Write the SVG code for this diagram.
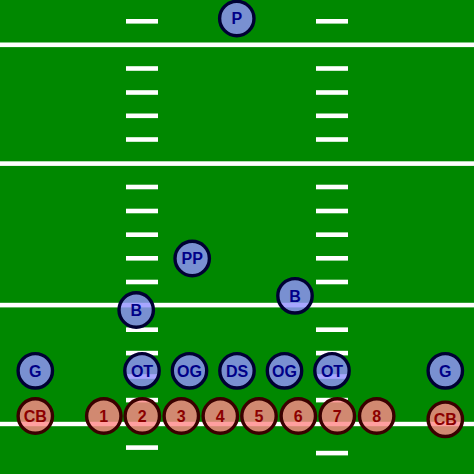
<svg xmlns="http://www.w3.org/2000/svg" width="474" height="474" viewBox="0 0 474 474">
<defs>
<style>
.field{fill:#008800}
.yl{fill:#ffffff}
.hm{fill:#ffffff}
.off circle{fill:#9492ff;fill-opacity:0.82;stroke:#000033;stroke-width:3.4}
.def circle{fill:#ff8a8a;fill-opacity:0.82;stroke:#3a0000;stroke-width:3.4}
text{font-family:"Liberation Sans",Arial,sans-serif;font-weight:bold;font-size:16px;text-anchor:middle}
.off text{fill:#000088}
.def text{fill:#8b0000}
</style>
</defs>
<rect class="field" x="0" y="0" width="474" height="474"/>
<g id="yardlines">
<rect class="yl" x="0" y="42.5" width="474" height="4.6"/>
<rect class="yl" x="0" y="161.3" width="474" height="4.6"/>
<rect class="yl" x="0" y="302.8" width="474" height="4.6"/>
<rect class="yl" x="0" y="421.8" width="474" height="4.4"/>
</g>
<g id="hashmarks">
<rect class="hm" x="126" y="19" width="32" height="4.6"/>
<rect class="hm" x="126" y="66.2" width="32" height="4.6"/>
<rect class="hm" x="126" y="90.2" width="32" height="4.6"/>
<rect class="hm" x="126" y="113.5" width="32" height="4.6"/>
<rect class="hm" x="126" y="137.2" width="32" height="4.6"/>
<rect class="hm" x="126" y="184.7" width="32" height="4.6"/>
<rect class="hm" x="126" y="208.7" width="32" height="4.6"/>
<rect class="hm" x="126" y="232.4" width="32" height="4.6"/>
<rect class="hm" x="126" y="256" width="32" height="4.6"/>
<rect class="hm" x="126" y="279.7" width="32" height="4.6"/>
<rect class="hm" x="126" y="327.4" width="32" height="4.6"/>
<rect class="hm" x="126" y="350.8" width="32" height="4.6"/>
<rect class="hm" x="126" y="374.2" width="32" height="4.6"/>
<rect class="hm" x="126" y="397.8" width="32" height="4.6"/>
<rect class="hm" x="126" y="445.3" width="32" height="4.6"/>
<rect class="hm" x="316" y="19" width="32" height="4.6"/>
<rect class="hm" x="316" y="66.2" width="32" height="4.6"/>
<rect class="hm" x="316" y="90.2" width="32" height="4.6"/>
<rect class="hm" x="316" y="113.5" width="32" height="4.6"/>
<rect class="hm" x="316" y="137.2" width="32" height="4.6"/>
<rect class="hm" x="316" y="184.7" width="32" height="4.6"/>
<rect class="hm" x="316" y="208.7" width="32" height="4.6"/>
<rect class="hm" x="316" y="232.4" width="32" height="4.6"/>
<rect class="hm" x="316" y="256" width="32" height="4.6"/>
<rect class="hm" x="316" y="279.7" width="32" height="4.6"/>
<rect class="hm" x="316" y="327.4" width="32" height="4.6"/>
<rect class="hm" x="316" y="350.8" width="32" height="4.6"/>
<rect class="hm" x="316" y="374.2" width="32" height="4.6"/>
<rect class="hm" x="316" y="397.8" width="32" height="4.6"/>
<rect class="hm" x="316" y="450.8" width="32" height="4.6"/>
</g>
<g class="off">
<g id="P"><circle cx="236.8" cy="18.5" r="17.2"/><text x="236.8" y="24.2">P</text></g>
<g id="PP"><circle cx="192.2" cy="258.5" r="17.2"/><text x="192.2" y="264.2">PP</text></g>
<g id="B-right"><circle cx="295" cy="295.8" r="17.2"/><text x="295" y="301.5">B</text></g>
<g id="B-left"><circle cx="136.2" cy="310" r="17.2"/><text x="136.2" y="315.7">B</text></g>
<g id="G-left"><circle cx="35.3" cy="370.8" r="17.2"/><text x="35.3" y="376.5">G</text></g>
<g id="OT-left"><circle cx="142" cy="370.8" r="17.2"/><text x="142" y="376.5">OT</text></g>
<g id="OG-left"><circle cx="189.5" cy="370.8" r="17.2"/><text x="189.5" y="376.5">OG</text></g>
<g id="DS"><circle cx="237" cy="370.8" r="17.2"/><text x="237" y="376.5">DS</text></g>
<g id="OG-right"><circle cx="284.5" cy="370.8" r="17.2"/><text x="284.5" y="376.5">OG</text></g>
<g id="OT-right"><circle cx="332" cy="370.8" r="17.2"/><text x="332" y="376.5">OT</text></g>
<g id="G-right"><circle cx="445.3" cy="370.8" r="17.2"/><text x="445.3" y="376.5">G</text></g>
</g>
<g class="def">
<g id="CB-left"><circle cx="35.3" cy="416" r="17.2"/><text x="35.3" y="421.7">CB</text></g>
<g id="D1"><circle cx="103.8" cy="416" r="17.2"/><text x="103.8" y="421.7">1</text></g>
<g id="D2"><circle cx="142.3" cy="416" r="17.2"/><text x="142.3" y="421.7">2</text></g>
<g id="D3"><circle cx="181.3" cy="416" r="17.2"/><text x="181.3" y="421.7">3</text></g>
<g id="D4"><circle cx="220.3" cy="416" r="17.2"/><text x="220.3" y="421.7">4</text></g>
<g id="D5"><circle cx="259" cy="416" r="17.2"/><text x="259" y="421.7">5</text></g>
<g id="D6"><circle cx="298.3" cy="416" r="17.2"/><text x="298.3" y="421.7">6</text></g>
<g id="D7"><circle cx="337.3" cy="416" r="17.2"/><text x="337.3" y="421.7">7</text></g>
<g id="D8"><circle cx="376.7" cy="416" r="17.2"/><text x="376.7" y="421.7">8</text></g>
<g id="CB-right"><circle cx="445.3" cy="419.3" r="17.2"/><text x="445.3" y="425">CB</text></g>
</g>
</svg>
